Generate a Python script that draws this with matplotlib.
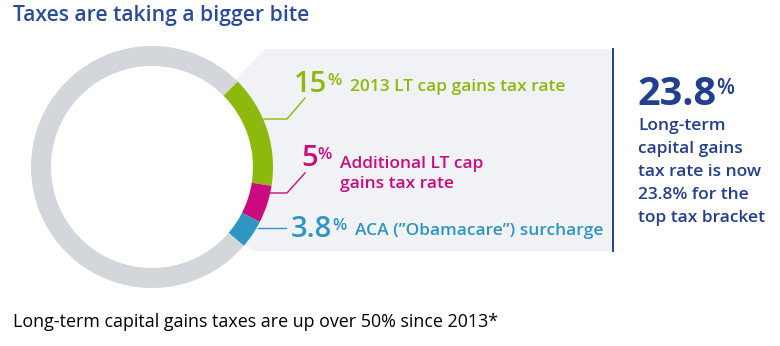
import matplotlib.pyplot as plt
from matplotlib.patches import Polygon, Circle

# data
rates = [15, 5, 3.8]
rate_texts = ["15", "5", "3.8"]
rate_labels = ["2013 LT cap gains tax rate",
               "Additional LT cap\ngains tax rate",
               "ACA (\u201dObamacare\u201d) surcharge"]
total_text = "23.8"
total_note = ["Long-term", "capital gains", "tax rate is now",
              "23.8% for the", "top tax bracket"]
title = "Taxes are taking a bigger bite"
footnote = "Long-term capital gains taxes are up over 50% since 2013*"

colors = ["#8cb90c", "#cc0a7f", "#2f95c3"]
ring_grey = "#d3d6da"
navy = "#223f8f"
plt.rcParams['font.family'] = ['Open Sans', 'DejaVu Sans']

fig = plt.figure(figsize=(7.8, 3.46), dpi=100)
ax = fig.add_axes([0, 0, 1, 1])

cx, cy, r_out, ring_w = 152, 167, 121, 20

# light panel behind the labels
panel = Polygon([(265, 49), (613, 49), (613, 251), (253, 251), (cx, cy)],
                closed=True, facecolor="#f0f2f5", edgecolor="none", zorder=0)
ax.add_patch(panel)
ax.add_patch(Circle((cx, cy), r_out - ring_w, facecolor="white", edgecolor="none", zorder=1))
ax.plot([613, 613], [49, 251], color=navy, lw=1.4, zorder=2)

# donut (y axis is inverted, so counterclock=True reads clockwise on screen)
values = rates + [100 - sum(rates)]
wedges, _ = ax.pie(values, colors=colors + [ring_grey], startangle=-45, counterclock=True,
                   center=(cx, cy), radius=r_out,
                   wedgeprops=dict(width=ring_w, edgecolor="none"))
for w in wedges:
    w.set_zorder(3)

ax.set_xlim(0, 780)
ax.set_ylim(346, 0)
ax.set_aspect("equal")
ax.axis("off")

# leader lines
ax.plot([264, 287, 305], [119, 119, 98], color=colors[0], lw=1, zorder=2)
ax.plot([268, 287, 305], [193, 193, 173], color=colors[1], lw=1, zorder=2)
ax.plot([258, 286], [228, 228], color=colors[2], lw=1, zorder=2)

# rate labels (multi-line text sits on the baseline of its last line)
num_pos = [(294, 92), (301, 166), (291, 237)]
label_base = [91, 188, 235]
for i in range(3):
    num = ax.text(num_pos[i][0], num_pos[i][1], rate_texts[i], color=colors[i],
                  fontsize=21, fontweight="semibold", va="baseline", ha="left")
    pct = ax.annotate("%", xy=(1, 1), xycoords=num, xytext=(0, -2), textcoords="offset points",
                      color=colors[i], fontsize=12, fontweight="semibold", va="top", ha="left")
    ax.annotate(rate_labels[i], xy=(1, label_base[i]), xycoords=(pct, "data"),
                xytext=(6, 0), textcoords="offset points", color=colors[i],
                fontsize=12.5, fontweight="semibold", va="baseline", ha="left",
                linespacing=1.3)

# right-hand callout
big = ax.text(637, 105, total_text, color=navy, fontsize=28.5, fontweight="bold",
              va="baseline", ha="left")
ax.annotate("%", xy=(1, 1), xycoords=big, xytext=(0, -2), textcoords="offset points",
            color=navy, fontsize=15, fontweight="semibold", va="top", ha="left")
for k, line in enumerate(total_note):
    ax.text(638, 130 + 23 * k, line, color=navy, fontsize=12.5, fontweight="semibold",
            va="baseline", ha="left")

ax.text(13, 21, title, color="#2b4b9b", fontsize=15.2, fontweight="semibold",
        va="baseline", ha="left")
ax.text(13, 327, footnote, color="black", fontsize=12.9, va="baseline", ha="left")

fig.savefig("out.png", dpi=100)
